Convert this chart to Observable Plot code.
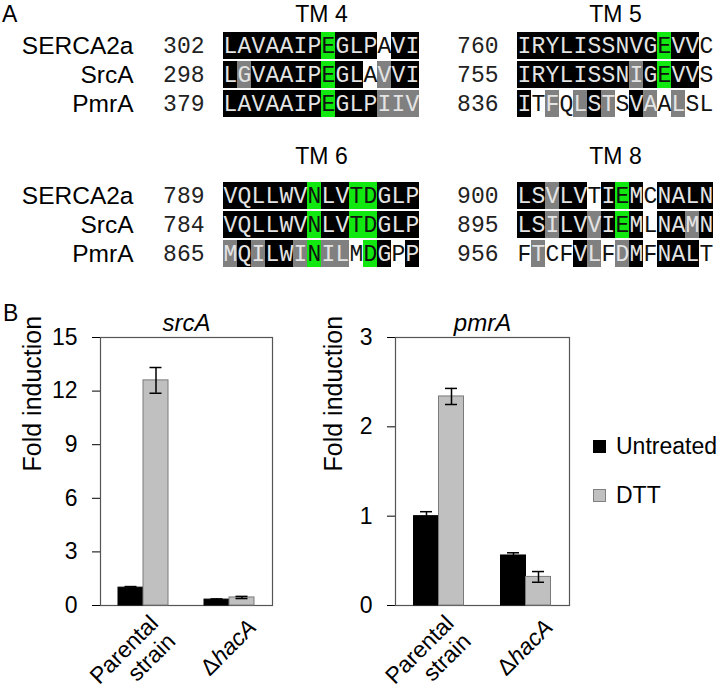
<!DOCTYPE html>
<html><head><meta charset="utf-8">
<script src="https://cdn.jsdelivr.net/npm/d3@7"></script>
<script src="https://cdn.jsdelivr.net/npm/@observablehq/plot@0.6"></script>
<style>
body{margin:0;background:#fff;}
#fig{position:relative;width:720px;height:691px;font-family:Arial,"Liberation Sans",sans-serif;overflow:hidden;background:#fff;}
.abs{position:absolute;}
.lab{position:absolute;font-size:23px;color:#000;line-height:1;}
.sw{position:absolute;width:13px;height:13px;box-sizing:border-box;}
</style></head><body><div id="fig"></div>
<script>
// ---------- Panel A data ----------
const species = ["SERCA2a", "SrcA", "PmrA"];
const tmTop = ["TM 4", "TM 5"];
const tmBottom = ["TM 6", "TM 8"];
const startPos = {
  "TM 4": [302, 298, 379],
  "TM 5": [760, 755, 836],
  "TM 6": [789, 784, 865],
  "TM 8": [900, 895, 956]
};
const seqs = {
  "TM 4": ["LAVAAIPEGLPAVI", "LGVAAIPEGLAVVI", "LAVAAIPEGLPIIV"],
  "TM 5": ["IRYLISSNVGEVVC", "IRYLISSNIGEVVS", "ITFQLSTSVAALSL"],
  "TM 6": ["VQLLWVNLVTDGLP", "VQLLWVNLVTDGLP", "MQILWINILMDGPP"],
  "TM 8": ["LSVLVTIEMCNALN", "LSILVVIEMLNAMN", "FTCFVLFDMFNALT"]
};
// k = identical (black), s = similar (gray), g = highlighted (green), w = unshaded
const shades = {
  "TM 4": ["kkkkkkkgkkkwkk", "kskkkkkgkkwskk", "kkkkkkkgkkksss"],
  "TM 5": ["kkkkkkkkkkgkkw", "kkkkkkkkskgkkw", "kwswskswkswsww"],
  "TM 6": ["kkkkkkgkkggkkk", "kkkkkkgkkggkkk", "skskksgsswgkwk"],
  "TM 8": ["kkskkwkgkwkkkk", "kkskkskgkwkksk", "wswwkswskwkkkw"]
};
const shadeKeys = ["k", "s", "g", "w"];
const shadeColors = ["#000000", "#808080", "#10e810", "#ffffff"];

// ---------- Panel B data ----------
const strains = ["Parental\nstrain", "ΔhacA"];
const treatments = ["Untreated", "DTT"];
const srcAUntreated = [1.0, 0.33];
const srcAUntreatedErr = [0.06, 0.04];
const srcADTT = [12.6, 0.45];
const srcADTTErr = [0.72, 0.06];
const pmrAUntreated = [1.0, 0.56];
const pmrAUntreatedErr = [0.05, 0.03];
const pmrADTT = [2.34, 0.32];
const pmrADTTErr = [0.09, 0.06];
const srcATicks = [0, 3, 6, 9, 12, 15];
const pmrATicks = [0, 1, 2, 3];

const SANS = "Arial, 'Liberation Sans', sans-serif";
const MONO = "'Courier New', 'Liberation Mono', monospace";
const fig = document.getElementById("fig");

function place(node, left, top) {
  const d = document.createElement("div");
  d.className = "abs";
  d.style.left = left + "px";
  d.style.top = top + "px";
  d.appendChild(node);
  fig.appendChild(d);
  return d;
}
function label(text, left, top, extra) {
  const d = document.createElement("div");
  d.className = "lab";
  d.style.left = left + "px";
  d.style.top = top + "px";
  if (extra) Object.assign(d.style, extra);
  d.textContent = text;
  fig.appendChild(d);
  return d;
}
function measure(text, font) {
  const ctx = document.createElement("canvas").getContext("2d");
  ctx.font = font;
  return ctx.measureText(text).width;
}

function alignPlot(tms, titleDy) {
  const cells = [];
  tms.forEach(tm => species.forEach((sp, i) => {
    const s = seqs[tm][i], c = shades[tm][i];
    for (let j = 0; j < s.length; j++) cells.push({tm, sp, pos: j, letter: s[j], shade: c[j]});
  }));
  const nums = tms.flatMap(tm => species.map((sp, i) => ({tm, sp, num: String(startPos[tm][i])})));
  return Plot.plot({
    width: 720, height: 122,
    marginTop: 31, marginBottom: 4, marginLeft: 218, marginRight: 2,
    style: {fontFamily: SANS, fontSize: "24.5px", background: "transparent", overflow: "visible", color: "#000"},
    fx: {domain: tms, paddingInner: 0.305, paddingOuter: 0, axis: null, label: null},
    x: {domain: d3.range(14), padding: 0, axis: null},
    y: {domain: species, padding: 0, tickSize: 0, tickPadding: 86, label: null},
    color: {domain: shadeKeys, range: shadeColors},
    marks: [
      Plot.cell(cells, {fx: "tm", x: "pos", y: "sp", fill: "shade", insetTop: 1, insetBottom: 1}),
      Plot.text(cells.filter(d => d.shade === "k" || d.shade === "s"),
        {fx: "tm", x: "pos", y: "sp", text: "letter", fill: "#e4e4e4", fontFamily: MONO, fontSize: 23}),
      Plot.text(cells.filter(d => d.shade === "g" || d.shade === "w"),
        {fx: "tm", x: "pos", y: "sp", text: "letter", fill: "#111", fontFamily: MONO, fontSize: 23}),
      Plot.text(nums, {fx: "tm", y: "sp", text: "num", frameAnchor: "left", textAnchor: "end",
        dx: -15, fill: "#222", fontFamily: MONO, fontSize: 23}),
      Plot.text(tms.map(t => ({tm: t})), {fx: "tm", text: "tm", frameAnchor: "top",
        lineAnchor: "top", dy: titleDy, fontSize: 23})
    ]
  });
}

function barPlot(title, vU, eU, vD, eD, ticks, ml, pw, labelDx) {
  const mr = 6, barW = 25, capW = 12, fs = 23;
  const bw = pw / 2;
  const U = strains.map((s, i) => ({strain: s, v: vU[i], e: eU[i]}));
  const D = strains.map((s, i) => ({strain: s, v: vD[i], e: eD[i]}));
  const capU = {insetLeft: bw / 2 - barW / 2 - capW / 2, insetRight: bw / 2 + barW / 2 - capW / 2};
  const capD = {insetLeft: bw / 2 + barW / 2 - capW / 2, insetRight: bw / 2 - barW / 2 - capW / 2};
  // rotated category labels, one single-line text per piece (no tspans)
  const [pLine0, pLine1] = strains[0].split("\n");
  const hacPrefix = strains[1].slice(0, 1), hacGene = strains[1].slice(1);
  const wGene = measure(hacGene, `italic ${fs}px Arial, 'Liberation Sans', sans-serif`);
  const c = Math.SQRT1_2;
  const rot = {y: () => 0, rotate: -45, textAnchor: "end", lineAnchor: "middle", fontSize: fs};
  return Plot.plot({
    width: ml + pw + mr, height: 401,
    marginTop: 47, marginBottom: 86, marginLeft: ml, marginRight: mr,
    style: {fontFamily: SANS, fontSize: "23px", background: "transparent", overflow: "visible", color: "#000"},
    x: {domain: strains, padding: 0, axis: null},
    y: {domain: [0, ticks[ticks.length - 1]], ticks: ticks, tickFormat: d => String(d),
        tickSize: 8, tickPadding: 15, label: null},
    marks: [
      Plot.frame({stroke: "#555", strokeWidth: 1.2}),
      Plot.barY(U, {x: "strain", y: "v", insetLeft: bw / 2 - barW, insetRight: bw / 2, fill: "#000", stroke: "#000"}),
      Plot.barY(D, {x: "strain", y: "v", insetLeft: bw / 2, insetRight: bw / 2 - barW, fill: "#c0c0c0", stroke: "#7a7a7a"}),
      Plot.ruleX(U, {x: "strain", y1: d => d.v - d.e, y2: d => d.v + d.e, dx: -barW / 2, stroke: "#000", strokeWidth: 1.5}),
      Plot.ruleX(D, {x: "strain", y1: d => d.v - d.e, y2: d => d.v + d.e, dx: barW / 2, stroke: "#000", strokeWidth: 1.5}),
      Plot.tickY(U, {x: "strain", y: d => d.v + d.e, ...capU, stroke: "#000", strokeWidth: 1.5}),
      Plot.tickY(U, {x: "strain", y: d => d.v - d.e, ...capU, stroke: "#000", strokeWidth: 1.5}),
      Plot.tickY(D, {x: "strain", y: d => d.v + d.e, ...capD, stroke: "#000", strokeWidth: 1.5}),
      Plot.tickY(D, {x: "strain", y: d => d.v - d.e, ...capD, stroke: "#000", strokeWidth: 1.5}),
      Plot.text([strains[0]], {x: d => d, text: () => pLine0, ...rot, dx: 11, dy: 14}),
      Plot.text([strains[0]], {x: d => d, text: () => pLine1, ...rot, dx: 28, dy: 32}),
      Plot.text([strains[1]], {x: d => d, text: () => hacGene, ...rot, fontStyle: "italic", dx: 23, dy: 18}),
      Plot.text([strains[1]], {x: d => d, text: () => hacPrefix, ...rot, dx: 23 - wGene * c, dy: 18 + wGene * c}),
      Plot.text([title], {frameAnchor: "top", dy: -24, fontStyle: "italic", fontSize: 24}),
      Plot.text(["Fold induction"], {frameAnchor: "left", rotate: -90, dx: labelDx, fontSize: 25})
    ]
  });
}

place(alignPlot(tmTop, -26), 0, 0);
place(alignPlot(tmBottom, -34), 0, 150);
place(barPlot("srcA", srcAUntreated, srcAUntreatedErr, srcADTT, srcADTTErr, srcATicks, 100, 172, -68), 0, 290);
place(barPlot("pmrA", pmrAUntreated, pmrAUntreatedErr, pmrADTT, pmrADTTErr, pmrATicks, 95, 174, -62), 300, 290);

label("A", 2, 3, {fontSize: "23px"});
label("B", 3, 302, {fontSize: "23px"});

// legend
const legend = [{t: treatments[0], fill: "#000", stroke: "#000", top: 440},
                {t: treatments[1], fill: "#c0c0c0", stroke: "#808080", top: 489}];
legend.forEach(l => {
  const s = document.createElement("div");
  s.className = "sw";
  s.style.left = "593px"; s.style.top = l.top + "px";
  s.style.background = l.fill; s.style.border = "1px solid " + l.stroke;
  fig.appendChild(s);
  label(l.t, 616, l.top - 5, {fontSize: "23px"});
});
</script></body></html>
